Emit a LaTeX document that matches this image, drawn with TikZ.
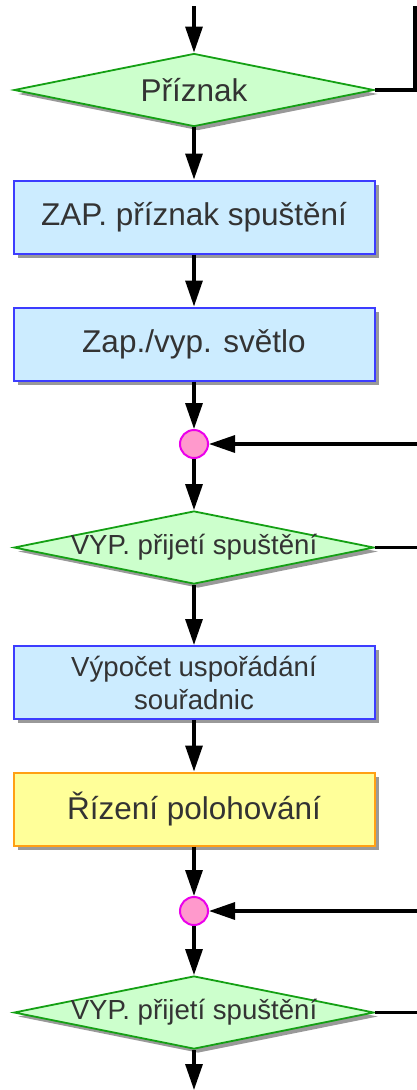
\documentclass[tikz,border=0pt]{standalone}
\usepackage{fontspec}
\setmainfont{Liberation Sans}
\usetikzlibrary{shapes.geometric, arrows.meta, shadows}
\definecolor{boxblue}{RGB}{204,236,255}
\definecolor{lineblue}{RGB}{60,60,255}
\definecolor{decgreen}{RGB}{204,255,204}
\definecolor{linegreen}{RGB}{20,160,20}
\definecolor{ctrlyellow}{RGB}{255,255,153}
\definecolor{lineorange}{RGB}{255,160,20}
\definecolor{joinpink}{RGB}{255,153,204}
\definecolor{linemagenta}{RGB}{235,0,235}
\newcommand{\bigtext}{\fontsize{31.5}{36}\selectfont}
\newcommand{\smalltext}{\fontsize{27.6}{33}\selectfont}
\tikzstyle{process} = [rectangle, text centered, draw=lineblue, fill=boxblue, line width=2pt, minimum width=361pt, minimum height=73pt, text=black!80, font=\bigtext, drop shadow={shadow xshift=4pt, shadow yshift=-4pt, fill=black, opacity=0.4}]
\tikzstyle{ctrlbox} = [process, draw=lineorange, fill=ctrlyellow]
\tikzstyle{decision} = [diamond, minimum width=360pt, minimum height=73pt, inner sep=0pt, text centered, draw=linegreen, fill=decgreen, line width=1.8pt, text=black!80, font=\bigtext, drop shadow={shadow xshift=4pt, shadow yshift=-4pt, fill=black, opacity=0.4}]
\tikzstyle{junction} = [circle, minimum size=28pt, inner sep=0pt, draw=linemagenta, fill=joinpink, line width=2pt]
\tikzstyle{arrow} = [line width=3.2pt, -{Triangle[length=26pt,width=17pt]}]
\tikzstyle{link} = [line width=3.2pt]
\begin{document}
\begin{tikzpicture}[x=1pt, y=1pt, node distance=127pt]
\useasboundingbox (0,0) rectangle (417,-1090);
\node (flag) [decision] at (194,-90)
   {\makebox[0pt]{Příznak}};
\node (flagon) [process, below of=flag]
   {ZAP. příznak spuštění};
\node (light) [process, below of=flagon]
   {Zap./vyp. světlo};
\node (join1) [junction, node distance=100pt, below of=light] {};
\node (accept1) [decision, node distance=103.5pt, below of=join1, font=\smalltext]
   {\makebox[0pt]{VYP. přijetí spuštění}};
\node (coords) [process, node distance=135pt, below of=accept1, align=center, font=\smalltext]
   {Výpočet uspořádání\\souřadnic};
\node (position) [ctrlbox, node distance=126.5pt, below of=coords]
   {Řízení polohování};
\node (join2) [junction, node distance=102pt, below of=position] {};
\node (accept2) [decision, node distance=101.5pt, below of=join2, font=\smalltext]
   {\makebox[0pt]{VYP. přijetí spuštění}};
\coordinate (top) at (194,-6);
\coordinate (topright) at (415,-6);
\coordinate (edge) at (417,0);
\coordinate (bottom) at (194,-1090);

\draw [arrow] (top) -- (flag);
\draw [link] (flag.east) -| (topright);
\draw [arrow] (flag) -- (flagon);
\draw [arrow] (flagon) -- (light);
\draw [arrow] (light) -- (join1);
\draw [arrow] (join1 -| edge) -- (join1);
\draw [arrow] (join1) -- (accept1);
\draw [link] (accept1.east) -- (accept1 -| edge);
\draw [arrow] (accept1) -- (coords);
\draw [arrow] (coords) -- (position);
\draw [arrow] (position) -- (join2);
\draw [arrow] (join2 -| edge) -- (join2);
\draw [arrow] (join2) -- (accept2);
\draw [link] (accept2.east) -- (accept2 -| edge);
\draw [arrow] (accept2) -- (bottom);
\end{tikzpicture}
\end{document}
